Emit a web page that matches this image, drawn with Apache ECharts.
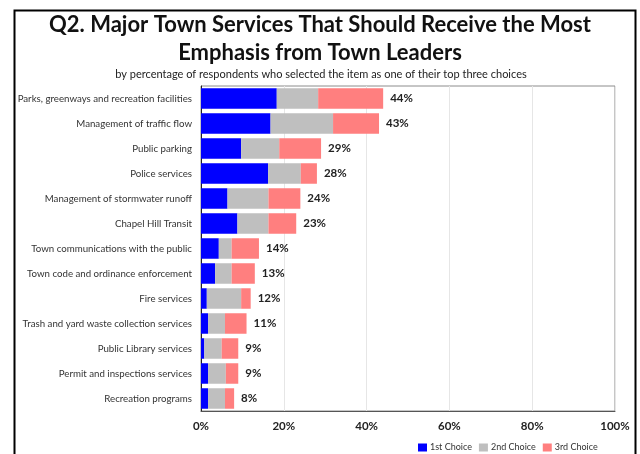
<!DOCTYPE html>
<html>
<head>
<meta charset="utf-8">
<script src="https://cdn.jsdelivr.net/npm/echarts@6/dist/echarts.min.js"></script>
<style>
  html, body { margin: 0; padding: 0; background: #fff; }
  #chart { width: 640px; height: 454px; }
</style>
</head>
<body>
<div id="chart"></div>
<script>
// Services ranked by share of respondents naming them in their top three
const categories = [
  'Parks, greenways and recreation facilities',
  'Management of traffic flow',
  'Public parking',
  'Police services',
  'Management of stormwater runoff',
  'Chapel Hill Transit',
  'Town communications with the public',
  'Town code and ordinance enforcement',
  'Fire services',
  'Trash and yard waste collection services',
  'Public Library services',
  'Permit and inspections services',
  'Recreation programs'
];
const firstChoice  = [18.3, 16.8, 9.7, 16.2, 6.4, 8.8, 4.3, 3.4, 1.4, 1.7, 0.8, 1.7, 1.7];
const secondChoice = [10.0, 15.1, 9.2, 7.9, 9.9, 7.5, 3.1, 4.0, 8.3, 4.1, 4.2, 4.3, 4.1];
const thirdChoice  = [15.7, 11.1, 10.1, 3.9, 7.7, 6.7, 6.6, 5.6, 2.3, 5.2, 4.0, 3.0, 2.2];
const seriesNames = ['1st Choice', '2nd Choice', '3rd Choice'];
const xTicks = [0, 20, 40, 60, 80, 100];

const totals = categories.map((_, i) => firstChoice[i] + secondChoice[i] + thirdChoice[i]);

const FONT = 'Lato, "Open Sans", sans-serif';
const chart = echarts.init(document.getElementById('chart'), null, { renderer: 'canvas' });

function barSeries(name, data, color, withLabel) {
  const s = {
    name: name,
    type: 'bar',
    stack: 'all',
    data: data,
    barWidth: '82%',
    itemStyle: { color: color },
    emphasis: { disabled: true }
  };
  if (withLabel) {
    s.label = {
      show: true,
      position: 'right',
      distance: 7,
      fontFamily: FONT,
      fontSize: 11.5,
      fontWeight: 'bold',
      color: '#222',
      formatter: p => Math.round(totals[p.dataIndex]) + '%'
    };
  }
  return s;
}

chart.setOption({
  animation: false,
  textStyle: { fontFamily: FONT },
  graphic: [
    { type: 'rect', left: 12, top: 8, shape: { width: 621, height: 470 },
      style: { fill: 'none', stroke: '#000', lineWidth: 2 }, silent: true },
    { type: 'text', x: 320, y: 25,
      style: { text: 'Q2. Major Town Services That Should Receive the Most', align: 'center', verticalAlign: 'middle',
               font: 'bold 22px ' + FONT, fill: '#111' } },
    { type: 'text', x: 320, y: 53,
      style: { text: 'Emphasis from Town Leaders', align: 'center', verticalAlign: 'middle',
               font: 'bold 22px ' + FONT, fill: '#111' } },
    { type: 'text', x: 321, y: 74,
      style: { text: 'by percentage of respondents who selected the item as one of their top three choices', align: 'center', verticalAlign: 'middle',
               font: '11px ' + FONT, fill: '#222' } }
  ],
  grid: {
    left: 201, right: 25, top: 86, bottom: 43,
    show: true, borderColor: '#8c8c8c', borderWidth: 1, backgroundColor: 'transparent'
  },
  legend: {
    data: seriesNames,
    left: 413, top: 438,
    itemWidth: 9, itemHeight: 8, itemGap: 7,
    icon: 'rect',
    textStyle: { fontFamily: FONT, fontSize: 9, color: '#333', padding: [0, 0, 0, -2] }
  },
  xAxis: {
    type: 'value',
    min: xTicks[0], max: xTicks[xTicks.length - 1], interval: 20,
    axisLine: { show: true, lineStyle: { color: '#555' } },
    axisTick: { show: false },
    splitLine: { show: true, lineStyle: { color: '#e6e6e6' } },
    axisLabel: { formatter: '{value}%', fontFamily: FONT, fontSize: 11.5, fontWeight: 'bold', color: '#222', margin: 9 }
  },
  yAxis: {
    type: 'category',
    data: categories,
    inverse: true,
    axisLine: { show: true, lineStyle: { color: '#222' } },
    axisTick: { show: false },
    axisLabel: { fontFamily: FONT, fontSize: 9.7, color: '#333', margin: 9 }
  },
  series: [
    barSeries(seriesNames[0], firstChoice, '#0000ff', false),
    barSeries(seriesNames[1], secondChoice, '#bfbfbf', false),
    barSeries(seriesNames[2], thirdChoice, '#ff7f7f', true)
  ]
});
</script>
</body>
</html>
